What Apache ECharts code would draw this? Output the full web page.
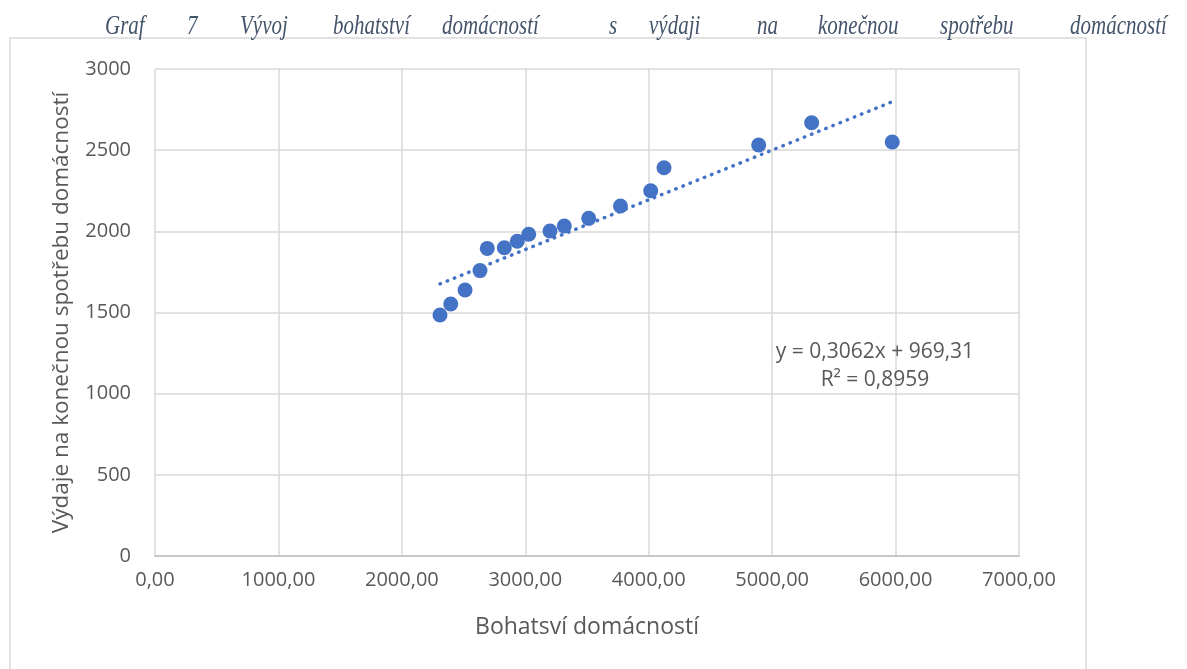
<!DOCTYPE html>
<html>
<head>
<meta charset="utf-8">
<script src="https://cdn.jsdelivr.net/npm/echarts@6/dist/echarts.min.js"></script>
<style>
  html, body { margin: 0; padding: 0; background: #fff; }
  #chart { width: 1187px; height: 669px; }
</style>
</head>
<body>
<div id="chart"></div>
<script>
// Bohatství domácností (x) a výdaje na konečnou spotřebu (y)
const wealth = [2309, 2396, 2512, 2633, 2692, 2830, 2935, 3028, 3200, 3316, 3514, 3771, 4016, 4124, 4891, 5320, 5973]
const spending = [1485, 1552, 1639, 1758, 1895, 1899, 1939, 1982, 2002, 2033, 2080, 2156, 2250, 2392, 2532, 2669, 2550]
// koeficienty lineárního trendu z grafu
const trendSlope = 0.3062
const trendIntercept = 969.31
const trendLabel = ['y = 0,3062x + 969,31', 'R² = 0,8959']
const titleWords = ['Graf', '7', 'Vývoj', 'bohatství', 'domácností', 's', 'výdaji', 'na', 'konečnou', 'spotřebu', 'domácností']
// levé okraje slov (zarovnaný nadpis do bloku)
const titleWordX = [105, 187, 240, 333, 442, 609, 649, 757, 818, 940, 1070]

const blue = '#4472C4'
const textGrey = '#595959'
const font = 'Open Sans'

const points = wealth.map((x, i) => [x, spending[i]])
const minX = Math.min(...wealth)
const maxX = Math.max(...wealth)
const trend = [
  [minX, trendSlope * minX + trendIntercept],
  [maxX, trendSlope * maxX + trendIntercept]
]

const chart = echarts.init(document.getElementById('chart'))

const option = {
  animation: false,
  backgroundColor: '#fff',
  grid: {
    left: 155,
    right: 168,
    top: 69,
    bottom: 113
  },
  xAxis: {
    type: 'value',
    min: 0,
    max: 7000,
    interval: 1000,
    name: 'Bohatsví domácností',
    nameLocation: 'middle',
    nameGap: 60,
    nameTextStyle: { color: textGrey, fontSize: 23, fontFamily: font },
    axisLine: { show: true, lineStyle: { color: '#BFBFBF', width: 1.5 } },
    axisTick: { show: false },
    axisLabel: {
      color: textGrey,
      fontSize: 20,
      fontFamily: font,
      margin: 14,
      formatter: v => v.toFixed(2).replace('.', ',')
    },
    splitLine: { show: true, lineStyle: { color: '#D9D9D9', width: 1.5 } }
  },
  yAxis: {
    type: 'value',
    min: 0,
    max: 3000,
    interval: 500,
    name: 'Výdaje na konečnou spotřebu domácností',
    nameLocation: 'middle',
    nameGap: 82,
    nameTextStyle: { color: textGrey, fontSize: 22.5, fontFamily: font },
    axisLine: { show: false },
    axisTick: { show: false },
    axisLabel: {
      color: textGrey,
      fontSize: 20,
      fontFamily: font,
      margin: 24,
      formatter: v => String(v)
    },
    splitLine: { show: true, lineStyle: { color: '#D9D9D9', width: 1.5 } }
  },
  series: [
    {
      type: 'scatter',
      symbolSize: 15,
      itemStyle: { color: blue, opacity: 1 },
      data: points,
      z: 3
    },
    {
      type: 'line',
      showSymbol: false,
      symbol: 'none',
      lineStyle: { color: blue, width: 3.5, type: [0.5, 7.2], cap: 'round' },
      data: trend,
      z: 2
    }
  ]
}
chart.setOption(option)

// rámeček grafu, nadpis a rovnice trendu
const eqPos = chart.convertToPixel({ gridIndex: 0 }, [5833, 1170])
const graphics = [
  {
    type: 'rect',
    shape: { x: 10, y: 38, width: 1076, height: 660 },
    style: { fill: 'none', stroke: '#D9D9D9', lineWidth: 1.5 },
    silent: true
  },
  {
    type: 'text',
    x: eqPos[0],
    y: eqPos[1],
    style: {
      text: trendLabel.join('\n'),
      fill: textGrey,
      font: '21px "Open Sans"',
      align: 'center',
      verticalAlign: 'middle',
      lineHeight: 28
    }
  }
]
titleWords.forEach((w, i) => {
  graphics.push({
    type: 'text',
    x: titleWordX[i],
    y: 27,
    scaleY: 1.3,
    style: {
      text: w,
      fill: '#44546A',
      font: 'italic 21px "Liberation Serif"',
      align: 'left',
      verticalAlign: 'middle'
    }
  })
})
chart.setOption({ graphic: graphics })

window.addEventListener('resize', () => {
  chart.resize()
})
</script>
</body>
</html>
